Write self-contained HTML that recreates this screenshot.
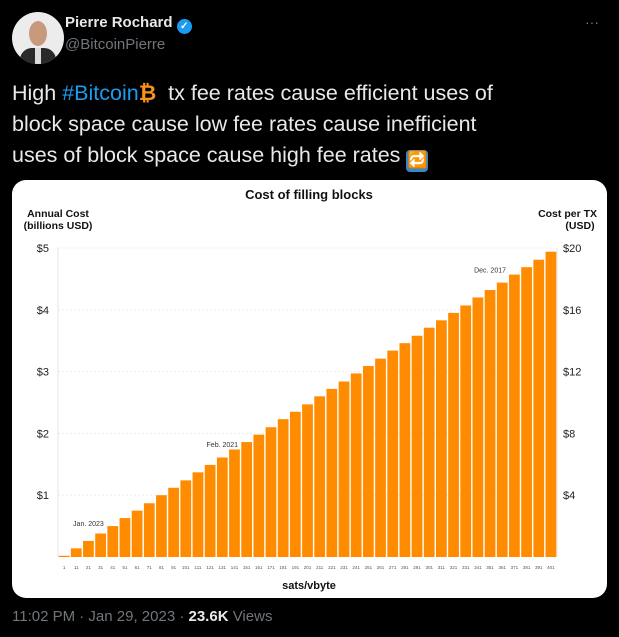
<!DOCTYPE html>
<html><head><meta charset="utf-8"><style>
body{margin:0;background:#000;width:619px;height:637px;overflow:hidden;font-family:"Liberation Sans",sans-serif;position:relative}
.abs{position:absolute}
</style></head><body>
<div class="abs" style="left:12px;top:12px;width:52px;height:52px;border-radius:50%;background:#ececec;overflow:hidden">
 <div style="position:absolute;left:17px;top:9px;width:18px;height:25px;border-radius:50%;background:#c79a7e"></div>
 <div style="position:absolute;left:8px;top:36px;width:36px;height:24px;border-radius:12px 12px 0 0;background:#2a2a2a"></div>
 <div style="position:absolute;left:23px;top:36px;width:6px;height:20px;background:#ddd"></div>
</div>
<div class="abs" style="left:65px;top:14px;color:#e7e9ea;font-weight:bold;font-size:15px">Pierre Rochard <span style="display:inline-block;width:15px;height:15px;border-radius:50%;background:#1d9bf0;color:#fff;font-size:10px;text-align:center;line-height:15px;vertical-align:-2px">✓</span></div>
<div class="abs" style="left:65px;top:36px;color:#71767b;font-size:15px">@BitcoinPierre</div>
<div class="abs" style="left:585px;top:14px;color:#71767b;font-size:14px">···</div>
<div class="abs" style="left:12px;top:78px;width:600px;color:#e7e9ea;font-size:21.5px;line-height:31px">High <span style="color:#1d9bf0">#Bitcoin</span><span style="color:#f7931a;font-weight:bold">₿</span>&nbsp; tx fee rates cause efficient uses of<br>block space cause low fee rates cause inefficient<br>uses of block space cause high fee rates <span style="display:inline-block;width:22px;height:22px;background:#3b88c3;border-radius:4px;color:#fff;font-size:16px;text-align:center;line-height:22px;vertical-align:-3px">🔁</span></div>
<div class="abs" style="left:12px;top:180px;width:595px;height:418px;background:#fff;border-radius:14px;overflow:hidden">
<svg id="chart" width="595" height="418" style="position:absolute;left:0;top:0" font-family="Liberation Sans, sans-serif"></svg>
</div>
<div class="abs" style="left:12px;top:608px;color:#71767b;font-size:15px">11:02 PM · Jan 29, 2023 · <b style="color:#e7e9ea">23.6K</b> Views</div>
<script>
const categories=[1,11,21,31,41,51,61,71,81,91,101,111,121,131,141,151,161,171,181,191,201,211,221,231,241,251,261,271,281,291,301,311,321,331,341,351,361,371,381,391,401];
const annualCost=[0.02,0.14,0.26,0.38,0.5,0.63,0.75,0.87,1.0,1.12,1.24,1.37,1.49,1.61,1.74,1.86,1.98,2.1,2.23,2.35,2.47,2.6,2.72,2.84,2.97,3.09,3.21,3.34,3.46,3.58,3.71,3.83,3.95,4.07,4.2,4.32,4.44,4.57,4.69,4.81,4.94];
const leftTicks=[1,2,3,4,5];
const rightTicks=[4,8,12,16,20];
const annotations=[{cat:21,label:"Jan. 2023",v:0.5},{cat:131,label:"Feb. 2021",v:1.78},{cat:351,label:"Dec. 2017",v:4.6}];
const svg=document.getElementById('chart');
const NS='http://www.w3.org/2000/svg';
const X0=46,X1=545,Y0=377,Y1=68,VMAX=5,RMAX=20;
const step=(X1-X0)/categories.length;
const xs=i=>X0+i*step;
const yl=v=>Y0-(v/VMAX)*(Y0-Y1);
const yr=v=>Y0-(v/RMAX)*(Y0-Y1);
function mk(t,a,txt){const e=document.createElementNS(NS,t);for(const k in a)e.setAttribute(k,a[k]);if(txt!==undefined)e.textContent=txt;svg.appendChild(e);return e;}
let e;
e=mk('text',{x:297,y:19,'text-anchor':'middle','font-size':13,'font-weight':'bold',fill:'#111'},'Cost of filling blocks');


e=mk('text',{x:46,y:37,'text-anchor':'middle','font-size':10.5,'font-weight':'bold',fill:'#111'},'Annual Cost');


mk('text',{x:46,y:49,'text-anchor':'middle','font-size':10.5,'font-weight':'bold',fill:'#111'},'(billions USD)');
e=mk('text',{x:585,y:37,'text-anchor':'end','font-size':10.5,'font-weight':'bold',fill:'#111'},'Cost per TX');


mk('text',{x:568,y:49,'text-anchor':'middle','font-size':10.5,'font-weight':'bold',fill:'#111'},'(USD)');
leftTicks.forEach(t=>{
 e=mk('line',{x1:X0,x2:X1,y1:yl(t),y2:yl(t),stroke:'#eee','stroke-dasharray':'2,2'});
 
 
 e=mk('text',{x:37,y:yl(t)+4,'text-anchor':'end','font-size':11,fill:'#222'},'$'+t);
 
 
});
rightTicks.forEach(t=>{
 e=mk('text',{x:551,y:yr(t)+4,'font-size':11,fill:'#222'},'$'+t);
 
 
});
mk('line',{x1:X0,x2:X0,y1:Y1,y2:Y0,stroke:'#e4e4e4'});
mk('line',{x1:X1,x2:X1,y1:Y1,y2:Y0,stroke:'#e4e4e4'});
categories.forEach((c,i)=>{
 const v=annualCost[i];
 e=mk('rect',{x:xs(i)+0.7,y:yl(v),width:step-1.4,height:Y0-yl(v),fill:'#ff8c00'});
 
 
 e=mk('text',{x:xs(i)+step/2,y:Y0+12,'text-anchor':'middle','font-size':4.5,fill:'#555'},c);
 
 
});
annotations.forEach(a=>{
 const i=categories.indexOf(a.cat);
 e=mk('text',{x:xs(i)+step/2,y:yl(a.v),'text-anchor':'middle','font-size':7,fill:'#333'},a.label);
 
 
});
e=mk('text',{x:297,y:409,'text-anchor':'middle','font-size':11,'font-weight':'bold',fill:'#111'},'sats/vbyte');


</script>
</body></html>
